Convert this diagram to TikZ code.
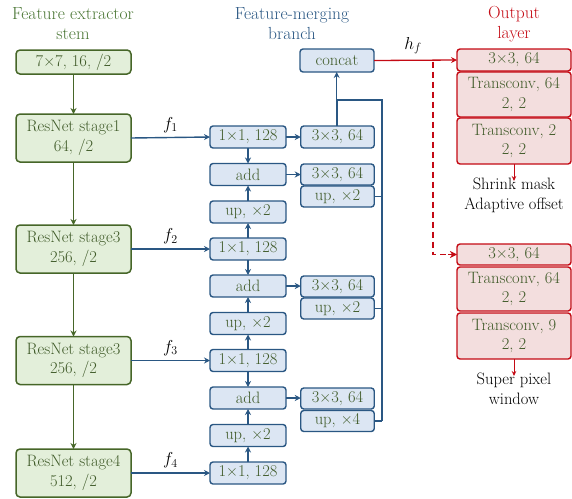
\documentclass[tikz,border=0pt]{standalone}
\usepackage{fontspec}
\usetikzlibrary{arrows.meta}
\definecolor{gdark}{HTML}{466628}
\definecolor{glight}{HTML}{E3EFDA}
\definecolor{gtitle}{HTML}{4A7634}
\definecolor{bdark}{HTML}{2A5783}
\definecolor{blight}{HTML}{DCE6F3}
\definecolor{rdark}{HTML}{C40A14}
\definecolor{rlight}{HTML}{F3DEDE}
\definecolor{txt}{HTML}{3F5A28}
\begin{document}
\begin{tikzpicture}[x=1pt,y=-1pt,
  every node/.style={font=\fontsize{16.5}{19.5}\selectfont, inner sep=0pt, outer sep=0pt},
  gbox/.style={draw=gdark, fill=glight, line width=1.5pt, rounded corners=4pt, minimum width=115pt, align=center, text=txt},
  bbox/.style={draw=bdark, fill=blight, line width=1.4pt, rounded corners=3pt, minimum width=76pt, minimum height=22pt, align=center, text=txt},
  rbox/.style={draw=rdark, fill=rlight, line width=1.4pt, rounded corners=3pt, minimum width=114pt, align=center, text=txt},
  garrow/.style={draw=gdark, line width=1.5pt, -{Stealth[length=6pt,width=6pt,inset=2pt]}},
  barrow/.style={draw=bdark, line width=1.4pt, -{Stealth[length=6pt,width=6pt,inset=2pt]}},
  bline/.style={draw=bdark, line width=1.6pt},
  rarrow/.style={draw=rdark, line width=1.3pt, -{Stealth[length=6pt,width=6pt,inset=2pt]}},
  rdash/.style={draw=rdark, line width=1.5pt, dash pattern=on 6pt off 4pt},
  title/.style={align=center, font=\fontsize{17.5}{20}\selectfont},
  lbl/.style={text=black, font=\fontsize{17}{20}\selectfont}
]
\useasboundingbox (0,0) rectangle (572,498);

% titles
\node[title, text=gtitle] (t1) at (73,24) {Feature extractor\\stem};
\node[title, text=bdark] (t2) at (292,24) {Feature-merging\\branch};
\node[title, text=rdark] (t3) at (514,24) {Output\\layer};

% green column
\node[gbox, minimum height=24pt] (stem) at (73.5,62) {7×7, 16, /2};
\node[gbox, minimum height=48pt] (s1) at (73.5,138) {ResNet stage1\\64, /2};
\node[gbox, minimum height=48pt] (s2) at (73.5,249) {ResNet stage3\\256, /2};
\node[gbox, minimum height=48pt] (s3) at (73.5,360.5) {ResNet stage3\\256, /2};
\node[gbox, minimum height=48pt] (s4) at (73.5,473) {ResNet stage4\\512, /2};
\draw[garrow] (stem) -- (s1);
\draw[garrow] (s1) -- (s2);
\draw[garrow] (s2) -- (s3);
\draw[garrow] (s3) -- (s4);

% blue main column
\node[bbox] (c1) at (248,137) {1×1, 128};
\node[bbox] (a1) at (248,174.5) {add};
\node[bbox] (u1) at (248,212) {up, ×2};
\node[bbox] (c2) at (248,249) {1×1, 128};
\node[bbox] (a2) at (248,286) {add};
\node[bbox] (u2) at (248,323.5) {up, ×2};
\node[bbox] (c3) at (248,360.5) {1×1, 128};
\node[bbox] (a3) at (248,398) {add};
\node[bbox] (u3) at (248,435.5) {up, ×2};
\node[bbox] (c4) at (248,473) {1×1, 128};

% f arrows
\draw[barrow] (s1.east) -- node[above=5pt, lbl] {$f_1$} (c1.west);
\draw[barrow] (s2.east) -- node[above=5pt, lbl] {$f_2$} (c2.west);
\draw[barrow] (s3.east) -- node[above=5pt, lbl] {$f_3$} (c3.west);
\draw[barrow] (s4.east) -- node[above=5pt, lbl] {$f_4$} (c4.west);

% vertical arrows in main column
\draw[barrow] (c1) -- (a1);
\draw[barrow] (u1) -- (a1);
\draw[barrow] (c2) -- (u1);
\draw[barrow] (c2) -- (a2);
\draw[barrow] (u2) -- (a2);
\draw[barrow] (c3) -- (u2);
\draw[barrow] (c3) -- (a3);
\draw[barrow] (u3) -- (a3);
\draw[barrow] (c4) -- (u3);

% right column
\node[bbox, minimum width=74pt, minimum height=23pt] (cat) at (337,60.5) {concat};
\node[bbox, minimum width=73.5pt] (k0) at (337.5,137) {3×3, 64};
\node[bbox, minimum width=73.5pt, minimum height=21pt] (k1) at (337.5,174.5) {3×3, 64};
\node[bbox, minimum width=73.5pt, minimum height=21pt] (v1) at (337.5,196.5) {up, ×2};
\node[bbox, minimum width=73.5pt, minimum height=21pt] (k2) at (337.5,286.5) {3×3, 64};
\node[bbox, minimum width=73.5pt, minimum height=21pt] (v2) at (337.5,308.5) {up, ×2};
\node[bbox, minimum width=73.5pt, minimum height=21pt] (k3) at (337.5,398.5) {3×3, 64};
\node[bbox, minimum width=73.5pt, minimum height=21pt] (v3) at (337.5,421) {up, ×4};

\draw[barrow] (c1) -- (k0);
\draw[barrow] (a1.east) -- (a1.east -| k1.west);
\draw[barrow] (a2.east) -- (a2.east -| k2.west);
\draw[barrow] (a3.east) -- (a3.east -| k3.west);

% bus
\coordinate (bt) at (382,100);
\coordinate (bb) at (382,421);
\coordinate (bm) at (336.7,100);
\draw[bline] (k0.north -| bm) -- (bm) -- (bt) -- (bb);
\draw[barrow] (bm) -- (bm |- cat.south);
\draw[bline] (v1.east) -- (v1.east -| bt);
\draw[bline] (v2.east) -- (v2.east -| bt);
\draw[bline] (v3.east) -- (bb);

% output layer
\node[rbox, minimum height=22pt] (r1) at (514,60) {3×3, 64};
\node[rbox, minimum height=45pt] (r2) at (514,94.5) {Transconv, 64\\2, 2};
\node[rbox, minimum height=46pt] (r3) at (514,141) {Transconv, 2\\2, 2};
\node[rbox, minimum height=21pt] (q1) at (514,254.5) {3×3, 64};
\node[rbox, minimum height=44pt] (q2) at (514,289) {Transconv, 64\\2, 2};
\node[rbox, minimum height=46pt] (q3) at (514,336) {Transconv, 9\\2, 2};

\coordinate (o1) at (514,181);
\coordinate (o2) at (514,376);
\draw[rarrow, line width=1pt, -{Stealth[length=5pt,width=4.5pt]}] (r3.south) -- (o1);
\draw[rarrow, line width=1pt, -{Stealth[length=5pt,width=4.5pt]}] (q3.south) -- (o2);
\node[align=center, text=black, anchor=north] (out1) at (514,178) {Shrink mask\\Adaptive offset};
\node[align=center, text=black, anchor=north] (out2) at (514,373) {Super pixel\\window};

% h_f
\draw[rarrow] (cat.east) -- node[above=6pt, pos=0.47, lbl] {$h_f$} (r1.west);
\coordinate (dk) at (433,60.5);
\draw[rdash] (cat.east) -- (dk) -- (dk |- q1.west) -- ([xshift=-8pt]q1.west);
\draw[rarrow, -{Stealth[length=7pt,width=7pt,inset=2pt]}] ([xshift=-9pt]q1.west) -- (q1.west);
\end{tikzpicture}
\end{document}
